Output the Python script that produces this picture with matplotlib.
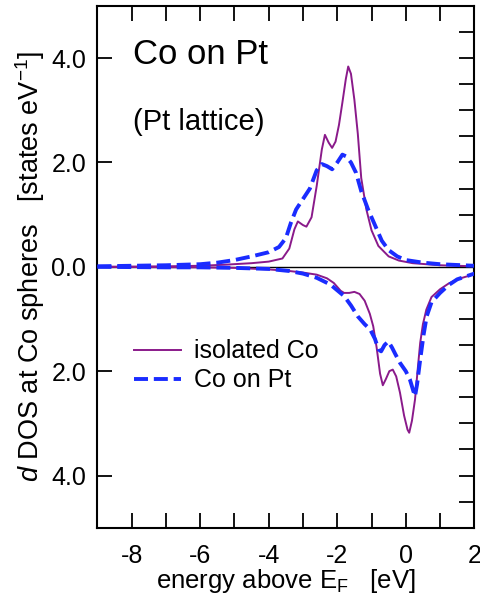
import numpy as np
import matplotlib
matplotlib.use('Agg')
import matplotlib.pyplot as plt
from matplotlib.ticker import MultipleLocator, FuncFormatter

plt.rcParams['font.family'] = ['Liberation Sans', 'DejaVu Sans']
plt.rcParams['mathtext.fontset'] = 'custom'
plt.rcParams['mathtext.rm'] = 'Liberation Sans'
plt.rcParams['mathtext.it'] = 'Liberation Sans:italic'

# Dados (energia em eV, DOS em estados/eV)
e_iso_up = [-9, -7, -6, -5.3, -4.5, -4.0, -3.6, -3.4, -3.25, -3.15, -3.0, -2.9, -2.75, -2.6,
            -2.45, -2.36, -2.25, -2.15, -2.05, -1.95, -1.85, -1.75, -1.68, -1.6, -1.5, -1.4,
            -1.3, -1.15, -1.0, -0.8, -0.5, -0.2, 0.2, 1.0, 2.0]
dos_iso_up = [0.0, 0.01, 0.02, 0.04, 0.07, 0.1, 0.16, 0.35, 0.72, 0.87, 0.80, 0.77, 0.95, 1.55,
              2.25, 2.53, 2.38, 2.28, 2.40, 2.72, 3.15, 3.60, 3.84, 3.70, 3.20, 2.55,
              1.70, 1.10, 0.70, 0.40, 0.20, 0.12, 0.07, 0.03, 0.01]

e_pt_up = [-9, -8, -7, -6, -5.5, -5.0, -4.5, -4.0, -3.7, -3.5, -3.35, -3.2, -3.0, -2.8, -2.6,
           -2.45, -2.3, -2.15, -2.0, -1.85, -1.75, -1.6, -1.45, -1.3, -1.1, -0.9, -0.7, -0.5,
           -0.25, 0, 0.5, 1.0, 2.0]
dos_pt_up = [0.01, 0.02, 0.03, 0.05, 0.08, 0.13, 0.2, 0.28, 0.38, 0.55, 0.85, 1.10, 1.30, 1.50, 1.85,
             1.97, 1.93, 1.87, 2.00, 2.15, 2.12, 2.00, 1.80, 1.45, 1.10, 0.80, 0.50, 0.32,
             0.20, 0.13, 0.08, 0.05, 0.02]

e_iso_dn = [-9, -6, -5, -4, -3.4, -3.0, -2.6, -2.3, -2.1, -1.9, -1.8, -1.65, -1.5, -1.35, -1.2,
            -1.05, -0.95, -0.85, -0.75, -0.67, -0.58, -0.48, -0.38, -0.28, -0.17, -0.05, 0.05,
            0.1, 0.18, 0.27, 0.35, 0.42, 0.5, 0.6, 0.75, 1.0, 1.25, 1.5, 2.0]
dos_iso_dn = [0, -0.01, -0.02, -0.05, -0.08, -0.11, -0.15, -0.22, -0.31, -0.46, -0.50, -0.50, -0.48,
              -0.52, -0.65, -0.90, -1.14, -1.55, -2.05, -2.27, -2.15, -2.00, -1.97, -2.10, -2.41,
              -2.85, -3.12, -3.18, -2.95, -2.54, -1.95, -1.46, -1.10, -0.82, -0.58, -0.43,
              -0.32, -0.24, -0.14]

e_pt_dn = [-9, -7, -6, -5, -4, -3.4, -3.0, -2.6, -2.2, -1.8, -1.6, -1.4, -1.2, -1.04, -0.9, -0.8,
           -0.72, -0.62, -0.51, -0.4, -0.3, -0.17, 0, 0.12, 0.22, 0.27, 0.33, 0.42, 0.52, 0.61,
           0.75, 1.0, 1.25, 1.5, 2.0]
dos_pt_dn = [0, -0.01, -0.01, -0.02, -0.04, -0.08, -0.13, -0.21, -0.34, -0.56, -0.74, -0.95, -1.10,
             -1.20, -1.38, -1.58, -1.62, -1.50, -1.43, -1.55, -1.68, -1.84, -2.00, -2.16, -2.38,
             -2.48, -2.25, -1.78, -1.30, -0.95, -0.68, -0.50, -0.35, -0.24, -0.13]

COR_ISO = '#8a1a8a'
COR_PT = '#1a2cff'

fig = plt.figure(figsize=(4.81, 5.98), dpi=100)
ax = fig.add_axes([0.2025, 0.1176, 0.7836, 0.8724])

ax.axhline(0, color='black', lw=1.0, zorder=1)
ax.plot(e_iso_up, dos_iso_up, color=COR_ISO, lw=1.4, label='isolated Co', zorder=2)
ax.plot(e_iso_dn, dos_iso_dn, color=COR_ISO, lw=1.4, zorder=2)
ax.plot(e_pt_up, dos_pt_up, color=COR_PT, lw=2.8, dashes=(3.6, 1.5), label='Co on Pt', zorder=3)
ax.plot(e_pt_dn, dos_pt_dn, color=COR_PT, lw=2.8, dashes=(3.6, 1.5), zorder=3)

ax.set_xlim(-9, 2)
ax.set_ylim(-5, 5)

# Ticks
ax.xaxis.set_major_locator(MultipleLocator(2))
ax.xaxis.set_minor_locator(MultipleLocator(1))
ax.yaxis.set_major_locator(MultipleLocator(2))
ax.yaxis.set_minor_locator(MultipleLocator(0.5))
ax.yaxis.set_major_formatter(FuncFormatter(lambda v, p: f'{abs(v):.1f}'))
ax.xaxis.set_major_formatter(FuncFormatter(lambda v, p: f'{v:.0f}'))
ax.tick_params(which='both', direction='in', length=11, width=1.3, labelsize=18,
               top=True, right=True)
ax.tick_params(which='minor', left=False)
ax.tick_params(axis='y', pad=8)
ax.tick_params(axis='x', pad=12)
for s in ax.spines.values():
    s.set_linewidth(1.5)

ax.text(-7.95, 4.07, 'Co on Pt', fontsize=25, va='center', ha='left')
ax.text(-7.95, 2.78, '(Pt lattice)', fontsize=21, va='center', ha='left')

ax.set_xlabel('energy above E$_\\mathrm{F}$   [eV]', fontsize=18.5, labelpad=-1)
ax.set_ylabel('$\\mathit{d}$ DOS at Co spheres   [states eV$^{-1}$]', fontsize=19.5, labelpad=3)

ax.legend(loc='upper left', bbox_to_anchor=(0.07, 0.38), frameon=False, fontsize=18,
          handlelength=1.9, handletextpad=0.5, labelspacing=0.2, borderaxespad=0)

fig.savefig('out.png', dpi=100)
